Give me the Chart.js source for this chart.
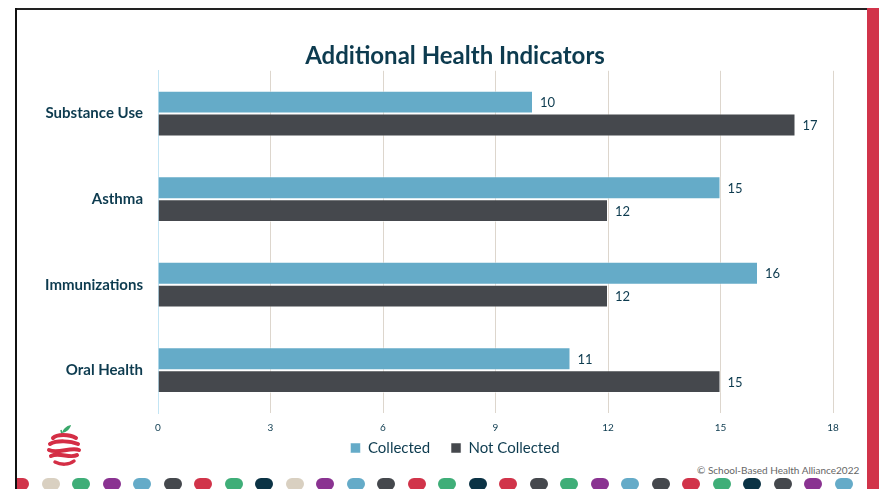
<!DOCTYPE html>
<html>
<head>
<meta charset="utf-8">
<script src="https://cdn.jsdelivr.net/npm/chart.js@4"></script>
<style>
  html, body { margin: 0; padding: 0; background: #fff; }
  body { width: 879px; height: 489px; position: relative; overflow: hidden; font-family: Lato, sans-serif; }
  .frame-top { position: absolute; left: 15px; top: 8px; width: 852px; height: 2px; background: #222; }
  .frame-left { position: absolute; left: 15px; top: 8px; width: 2px; height: 481px; background: #111; }
  .red-side { position: absolute; left: 867px; top: 8px; width: 12px; height: 481px; background: #d1344a; }
  .dots { position: absolute; left: 17px; top: 478px; width: 850px; height: 12px; overflow: hidden; }
  .dot { position: absolute; width: 18px; height: 12px; border-radius: 6px; }
  .copy { position: absolute; left: 697px; top: 464px; font-size: 10px; color: #666; font-family: Lato, sans-serif; }
  .logo { position: absolute; left: 45px; top: 423px; }
  #chart { position: absolute; left: 0; top: 0; }
</style>
</head>
<body>
<div class="dots" id="dots"></div>
<div class="frame-top"></div>
<div class="frame-left"></div>
<div class="red-side"></div>
<svg class="logo" width="38" height="46" viewBox="0 0 38 46">
  <path d="M17 10 C18 6 21 3 26 2 C25 6 22 9 17 10 Z" fill="#3aa86b"/>
  <path d="M16 7 L17 11" stroke="#3aa86b" stroke-width="1.5"/>
  <path d="M8 15 C12 11 24 11 31 15" stroke="#d42e45" stroke-width="4" fill="none" stroke-linecap="round"/>
  <path d="M5 21 C12 17 26 18 33 21" stroke="#d42e45" stroke-width="4" fill="none" stroke-linecap="round"/>
  <path d="M4 27 C12 31 26 24 34 27" stroke="#d42e45" stroke-width="4" fill="none" stroke-linecap="round"/>
  <path d="M6 33 C14 29 26 36 32 32" stroke="#d42e45" stroke-width="4" fill="none" stroke-linecap="round"/>
  <path d="M10 39 C16 42 24 42 29 38" stroke="#d42e45" stroke-width="3.5" fill="none" stroke-linecap="round"/>
</svg>
<div class="copy">© School-Based Health Alliance2022</div>
<canvas id="chart" width="879" height="489"></canvas>
<script>
// dados do grafico
const categorias = ['Substance Use', 'Asthma', 'Immunizations', 'Oral Health'];
const coletados = [10, 15, 16, 11];
const naoColetados = [17, 12, 12, 15];
const ticksX = [0, 3, 6, 9, 12, 15, 18];

// bolinhas do rodape
const corBolinhas = ['#d1344a','#d9d0c1','#3fae78','#8a3391','#65abc8','#45484d','#d1344a','#3fae78','#0b3345','#d9d0c1','#8a3391','#65abc8','#45484d','#d1344a','#3fae78','#0b3345','#d1344a','#45484d','#3fae78','#8a3391','#65abc8','#45484d','#d1344a','#3fae78','#0b3345','#45484d','#8a3391','#65abc8'];
const dotsEl = document.getElementById('dots');
corBolinhas.forEach((c, i) => {
    const d = document.createElement('div');
    d.className = 'dot';
    d.style.left = (-6 + i * 30.5) + 'px';
    d.style.background = c;
    dotsEl.appendChild(d);
});

const corTexto = '#0d3b4f';

const rotulosValores = {
    id: 'rotulosValores',
    afterDatasetsDraw(chart) {
        const ctx = chart.ctx;
        ctx.save();
        ctx.font = '13px Lato';
        ctx.fillStyle = corTexto;
        ctx.textBaseline = 'middle';
        chart.data.datasets.forEach((ds, i) => {
            chart.getDatasetMeta(i).data.forEach((bar, j) => {
                ctx.fillText(ds.data[j], bar.x + 7, bar.y + 1);
            });
        });
        ctx.restore();
    }
};

const ctx = document.getElementById('chart').getContext('2d');
new Chart(ctx, {
    type: 'bar',
    data: {
        labels: categorias,
        datasets: [{
            label: 'Collected',
            data: coletados,
            backgroundColor: '#65abc8',
            borderColor: 'rgba(255,255,255,0.5)',
            borderWidth: 1,
            xAxisID: 'x',
            yAxisID: 'y'
        }, {
            label: 'Not Collected',
            data: naoColetados,
            backgroundColor: '#45484d',
            borderColor: 'rgba(255,255,255,0.5)',
            borderWidth: 1,
            xAxisID: 'x',
            yAxisID: 'y'
        }]
    },
    options: {
        indexAxis: 'y',
        responsive: false,
        animation: false,
        categoryPercentage: 0.535,
        barPercentage: 1,
        layout: { padding: { left: 40, right: 9, top: 0, bottom: 23.5 } },
        plugins: {
            title: {
                display: true,
                text: 'Additional Health Indicators',
                color: corTexto,
                font: { family: 'Lato', size: 24, weight: 'bold' },
                padding: { top: 42, bottom: 0 }
            },
            legend: {
                position: 'bottom',
                labels: {
                    color: corTexto,
                    font: { family: 'Lato', size: 15 },
                    boxWidth: 10,
                    boxHeight: 10,
                    padding: 5.5,
                    // espaco extra entre os itens da legenda
                    generateLabels: chart => {
                        const itens = Chart.defaults.plugins.legend.labels.generateLabels(chart);
                        itens.forEach((it, i) => { if (i < itens.length - 1) it.text += '    '; });
                        return itens;
                    }
                }
            },
            tooltip: { enabled: false }
        },
        scales: {
            x: {
                min: 0,
                max: 18,
                afterBuildTicks: s => { s.ticks = ticksX.map(v => ({ value: v })); },
                grid: { color: '#ddd6cd', drawTicks: false },
                border: { display: false },
                ticks: { color: corTexto, font: { family: 'Lato', size: 10 }, padding: 9 },
                afterFit: s => { s.height = 22; }
            },
            y: {
                grid: { display: false },
                border: { color: '#c3e5f4', width: 1 },
                ticks: { color: corTexto, font: { family: 'Lato', size: 15, weight: 'bold' }, padding: 7 },
                afterFit: s => { s.width = 118; }
            },
            yRight: {
                type: 'linear',
                position: 'right',
                grid: { display: false },
                border: { display: false },
                ticks: { display: false },
                afterFit: s => { s.width = 37; }
            }
        }
    },
    plugins: [rotulosValores]
});
</script>
</body>
</html>
